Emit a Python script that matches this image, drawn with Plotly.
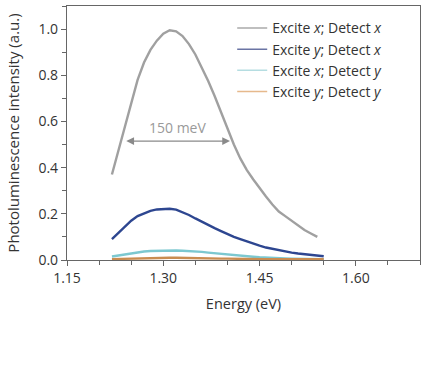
import plotly.graph_objects as go

energy = [1.22, 1.23, 1.24, 1.25, 1.26, 1.27, 1.28, 1.29, 1.30, 1.31, 1.32, 1.33,
          1.34, 1.35, 1.36, 1.37, 1.38, 1.39, 1.40, 1.41, 1.42, 1.43, 1.44, 1.45,
          1.46, 1.47, 1.48, 1.49, 1.50, 1.51, 1.52, 1.53, 1.54, 1.55]

xx = [0.37, 0.47, 0.58, 0.68, 0.78, 0.855, 0.91, 0.95, 0.98, 0.995, 0.99, 0.97,
      0.935, 0.89, 0.835, 0.775, 0.71, 0.64, 0.57, 0.50, 0.44, 0.39, 0.35, 0.31,
      0.275, 0.24, 0.21, 0.19, 0.17, 0.15, 0.13, 0.115, 0.10, None]
yx = [0.09, 0.118, 0.145, 0.170, 0.190, 0.203, 0.213, 0.219, 0.222, 0.222, 0.218, 0.208,
      0.195, 0.180, 0.165, 0.151, 0.138, 0.125, 0.112, 0.100, 0.090, 0.080, 0.070, 0.062,
      0.054, 0.048, 0.042, 0.037, 0.032, 0.028, 0.025, 0.021, 0.018, 0.016]
xy = [0.015, 0.020, 0.025, 0.030, 0.034, 0.037, 0.039, 0.040, 0.041, 0.041, 0.041, 0.040,
      0.039, 0.037, 0.035, 0.032, 0.029, 0.026, 0.023, 0.020, 0.018, 0.016, 0.014, 0.012,
      0.010, 0.009, 0.008, 0.007, 0.006, 0.005, 0.004, 0.004, 0.003, 0.003]
yy = [0.004, 0.005, 0.006, 0.007, 0.008, 0.009, 0.009, 0.010, 0.010, 0.010, 0.010, 0.009,
      0.009, 0.008, 0.008, 0.007, 0.007, 0.006, 0.006, 0.005, 0.005, 0.004, 0.004, 0.004,
      0.003, 0.003, 0.003, 0.003, 0.003, 0.003, 0.003, 0.003, 0.003, 0.003]

names = ["Excite <i>x</i>; Detect <i>x</i>", "Excite <i>y</i>; Detect <i>x</i>",
         "Excite <i>x</i>; Detect <i>y</i>", "Excite <i>y</i>; Detect <i>y</i>"]
series = [xx, yx, xy, yy]
colors = ["#a0a0a0", "#2d4690", "#7cc8d0", "#c98c50"]
legend_colors = ["#aaaaaa", "#6a74a4", "#b5dde1", "#e6b98c"]

fwhm_x = [1.240, 1.404]
fwhm_y = 0.515
fwhm_label = "150 meV"

fig = go.Figure()
for s, c in zip(series, colors):
    fig.add_trace(go.Scatter(x=energy, y=s, mode="lines", line=dict(color=c, width=2.4),
                             showlegend=False, hoverinfo="skip"))
for n, c in zip(names, legend_colors):
    fig.add_trace(go.Scatter(x=[None], y=[None], mode="lines", name=n,
                             line=dict(color=c, width=1.5)))

fig.add_annotation(x=fwhm_x[1], y=fwhm_y, ax=fwhm_x[0], ay=fwhm_y, xref="x", yref="y",
                   axref="x", ayref="y", text="", showarrow=True, arrowhead=2,
                   startarrowhead=2, arrowside="end+start", arrowsize=1.3,
                   startarrowsize=1.3, arrowwidth=1.2, arrowcolor="#8a8a8a")
fig.add_annotation(x=sum(fwhm_x) / 2, y=fwhm_y + 0.06, xref="x", yref="y", text=fwhm_label,
                   showarrow=False, font=dict(size=14, color="#9a9a9a"))

axis_common = dict(showline=True, linecolor="#666666", linewidth=1.2, mirror=True,
                   ticks="outside", ticklen=5, tickcolor="#666666", showgrid=False,
                   zeroline=False, tickfont=dict(size=14, color="#333333"))

fig.update_layout(
    width=429, height=376,
    margin=dict(l=67, r=9, t=6, b=116),
    plot_bgcolor="white", paper_bgcolor="white",
    font=dict(family="Open Sans", color="#333333"),
    xaxis=dict(range=[1.15, 1.70], tickvals=[1.15, 1.30, 1.45, 1.60],
               ticktext=["1.15", "1.30", "1.45", "1.60"],
               minor=dict(dtick=0.05, tick0=1.15, ticks="outside", ticklen=4, tickcolor="#666666"),
               title=dict(text="Energy (eV)", font=dict(size=14.5, color="#333333"), standoff=12),
               **axis_common),
    yaxis=dict(range=[0, 1.1], tickvals=[0, 0.2, 0.4, 0.6, 0.8, 1.0],
               ticktext=["0.0", "0.2", "0.4", "0.6", "0.8", "1.0"],
               minor=dict(dtick=0.1, tick0=0, ticks="outside", ticklen=4, tickcolor="#666666"),
               title=dict(text="Photoluminescence intensity (a.u.)", font=dict(size=15, color="#333333"),
                          standoff=15),
               **axis_common),
    legend=dict(x=0.468, y=0.975, xanchor="left", yanchor="top", bgcolor="rgba(0,0,0,0)",
                font=dict(size=14, color="#333333"), tracegroupgap=0),
)

fig.write_html("out.html", config={"displayModeBar": False},
               post_script="document.body.style.margin='0';")
